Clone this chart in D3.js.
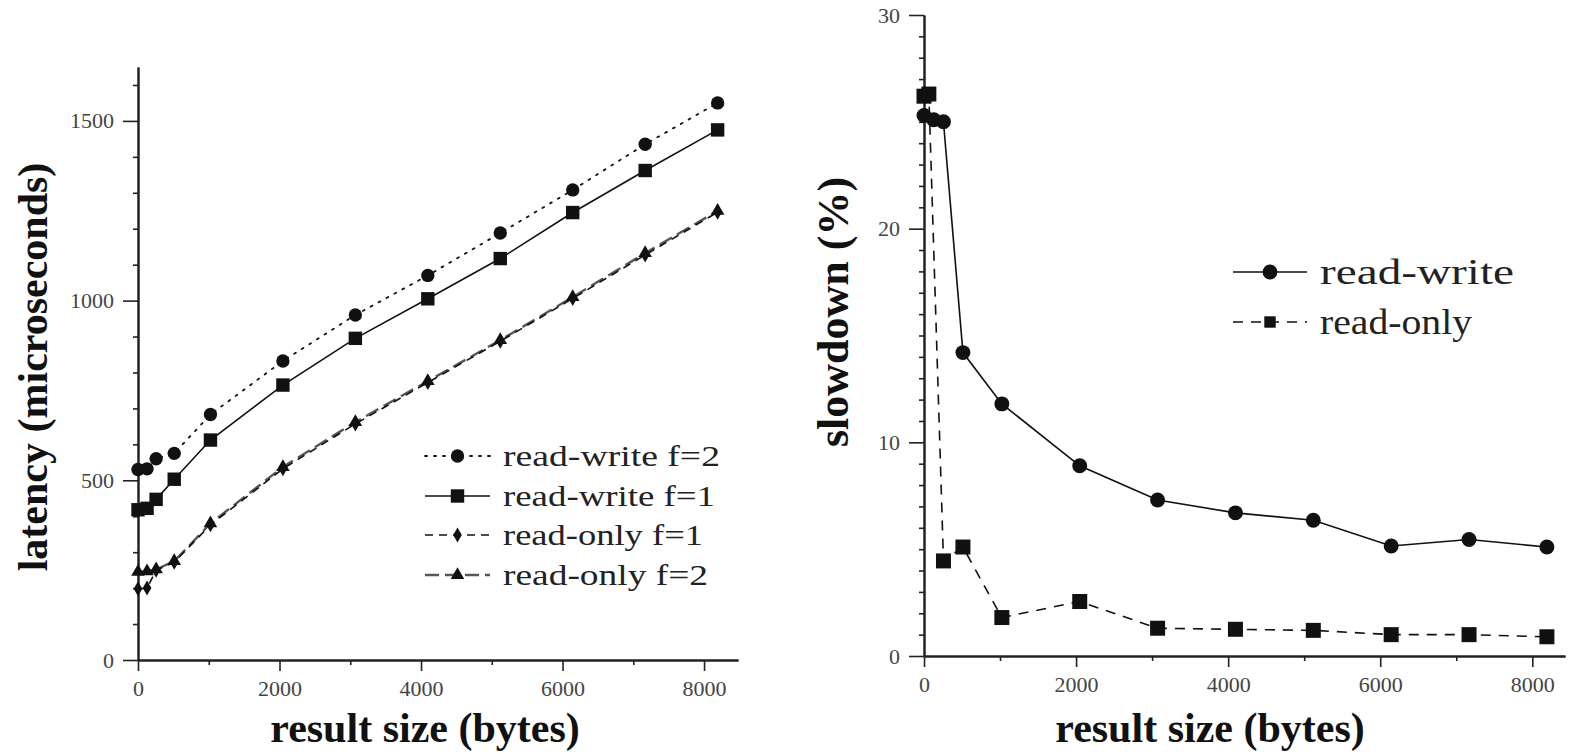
<!DOCTYPE html>
<html>
<head>
<meta charset="utf-8">
<script src="https://cdn.jsdelivr.net/npm/d3@7"></script>
<style>
  body { margin: 0; background: #fff; }
  svg { display: block; }
  text { font-family: "Liberation Serif", "Times New Roman", serif; }
</style>
</head>
<body>
<svg id="chart" width="1575" height="754"></svg>
<script>
// result sizes (bytes) used on both panels
const sizes = [0, 128, 256, 512, 1024, 2048, 3072, 4096, 5120, 6144, 7168, 8192];
const sizesRO = [0, 64, 256, 512, 1024, 2048, 3072, 4096, 5120, 6144, 7168, 8192];

// left panel: latency (microseconds)
const latRWf2 = [530, 532, 560, 575, 683, 832, 960, 1070, 1188, 1308, 1435, 1550];
const latRWf1 = [418, 422, 447, 503, 612, 765, 895, 1005, 1117, 1245, 1362, 1475];
const latROf1 = [198, 200, 250, 272, 376, 532, 657, 772, 887, 1006, 1127, 1246];
const latROf2 = [245, 247, 252, 275, 380, 537, 662, 776, 890, 1010, 1132, 1250];

// right panel: slowdown (%)
const slowRW = [25.3, 25.1, 25.0, 14.2, 11.8, 8.9, 7.3, 6.7, 6.35, 5.15, 5.45, 5.1];
const slowRO = [26.2, 26.3, 4.45, 5.1, 1.8, 2.55, 1.3, 1.25, 1.2, 1.0, 1.0, 0.9];

const xTicks = [0, 2000, 4000, 6000, 8000];
const xMinor = [1000, 3000, 5000, 7000];
const latTicks = [0, 500, 1000, 1500];
const slowTicks = [0, 10, 20, 30];

const svg = d3.select("#chart");

// draws one axis pair with major + minor ticks
function drawAxes(x, y, yMajor, yMinor) {
  const fmt = d3.format("d");
  const xa = svg.append("g").attr("transform", `translate(0,${y.range()[0]})`);
  xa.call(d3.axisBottom(x).tickValues(xMinor).tickSize(5).tickFormat("").tickSizeOuter(0));
  xa.append("g").call(d3.axisBottom(x).tickValues(xTicks).tickSize(11).tickPadding(9).tickFormat(fmt).tickSizeOuter(0));

  const ya = svg.append("g").attr("transform", `translate(${x.range()[0]},0)`);
  ya.call(d3.axisLeft(y).tickValues(yMinor).tickSize(5).tickFormat("").tickSizeOuter(0));
  ya.append("g").call(d3.axisLeft(y).tickValues(yMajor).tickSize(15).tickPadding(9).tickFormat(fmt).tickSizeOuter(0));

  svg.selectAll(".domain").attr("stroke", "#222").attr("stroke-width", 2);
  svg.selectAll(".tick line").attr("stroke", "#222").attr("stroke-width", 1.6);
  svg.selectAll(".tick text")
    .attr("font-family", "Liberation Serif, serif")
    .attr("font-size", 22)
    .attr("fill", "#444");
}

function drawSeries(x, y, xs, ys, opt) {
  const pts = xs.map((d, i) => [d, ys[i]]);
  svg.append("path")
    .datum(pts)
    .attr("fill", "none")
    .attr("stroke", opt.color || "#111")
    .attr("stroke-width", opt.width || 1.6)
    .attr("stroke-dasharray", opt.dash || null)
    .attr("stroke-linecap", opt.cap || "butt")
    .attr("d", d3.line().x(d => x(d[0])).y(d => y(d[1])));
  svg.append("g").selectAll("path")
    .data(pts)
    .join("path")
    .attr("transform", d => `translate(${x(d[0])},${y(d[1])})`)
    .attr("d", d3.symbol(opt.symbol, opt.size))
    .attr("fill", "#111");
}

function legendRow(x0, x1, y, opt, label, fontSize, len) {
  svg.append("line")
    .attr("x1", x0).attr("x2", x1).attr("y1", y).attr("y2", y)
    .attr("stroke", opt.color || "#111")
    .attr("stroke-width", opt.width || 1.6)
    .attr("stroke-dasharray", opt.dash || null)
    .attr("stroke-linecap", opt.cap || "butt");
  svg.append("path")
    .attr("transform", `translate(${(x0 + x1) / 2},${y})`)
    .attr("d", d3.symbol(opt.symbol, opt.size))
    .attr("fill", "#111");
  svg.append("text")
    .attr("x", x1 + 13).attr("y", y + fontSize * 0.33)
    .attr("font-size", fontSize)
    .attr("fill", "#222")
    .attr("textLength", len)
    .attr("lengthAdjust", "spacingAndGlyphs")
    .text(label);
}

// ---------- left panel ----------
const xL = d3.scaleLinear().domain([0, 8480]).range([138, 738]);
const yL = d3.scaleLinear().domain([0, 1650]).range([660, 67]);
drawAxes(xL, yL, latTicks, d3.range(100, 1700, 100).filter(v => v % 500));

const sRWf2 = { symbol: d3.symbolCircle, size: 140, dash: "2,7", cap: "round", width: 1.8 };
const sRWf1 = { symbol: d3.symbolSquare, size: 180 };
const sROf1 = { symbol: d3.symbolDiamond, size: 65, dash: "8,6" };
const sROf2 = { symbol: d3.symbolTriangle, size: 80, dash: "14,6", color: "#555", width: 2.4 };

drawSeries(xL, yL, sizes, latRWf2, sRWf2);
drawSeries(xL, yL, sizes, latRWf1, sRWf1);
drawSeries(xL, yL, sizes, latROf2, sROf2);
drawSeries(xL, yL, sizes, latROf1, sROf1);

legendRow(425, 490, 456, sRWf2, "read-write f=2", 30, 217);
legendRow(425, 490, 496, sRWf1, "read-write f=1", 30, 212);
legendRow(425, 490, 535, sROf1, "read-only f=1", 30, 200);
legendRow(425, 490, 575, sROf2, "read-only f=2", 30, 205);

svg.append("text")
  .attr("transform", "translate(47,367) rotate(-90)")
  .attr("text-anchor", "middle")
  .attr("font-size", 42).attr("font-weight", "bold").attr("fill", "#111")
  .text("latency (microseconds)");
svg.append("text")
  .attr("x", 425).attr("y", 742)
  .attr("text-anchor", "middle")
  .attr("font-size", 42).attr("font-weight", "bold").attr("fill", "#111")
  .text("result size (bytes)");

// ---------- right panel ----------
const xR = d3.scaleLinear().domain([0, 8430]).range([924, 1565]);
const yR = d3.scaleLinear().domain([0, 30]).range([656, 15]);
drawAxes(xR, yR, slowTicks, d3.range(1, 30).filter(v => v % 10));

const sRW = { symbol: d3.symbolCircle, size: 175 };
const sRO = { symbol: d3.symbolSquare, size: 225, dash: "10,8" };

drawSeries(xR, yR, sizesRO, slowRO, sRO);
drawSeries(xR, yR, sizes, slowRW, sRW);

legendRow(1233, 1307, 272, sRW, "read-write", 36, 194);
legendRow(1233, 1307, 322, { ...sRO, size: 130 }, "read-only", 36, 152);

svg.append("text")
  .attr("transform", "translate(848,312) rotate(-90)")
  .attr("text-anchor", "middle")
  .attr("font-size", 44).attr("font-weight", "bold").attr("fill", "#111")
  .text("slowdown (%)");
svg.append("text")
  .attr("x", 1210).attr("y", 742)
  .attr("text-anchor", "middle")
  .attr("font-size", 42).attr("font-weight", "bold").attr("fill", "#111")
  .text("result size (bytes)");
</script>
</body>
</html>
